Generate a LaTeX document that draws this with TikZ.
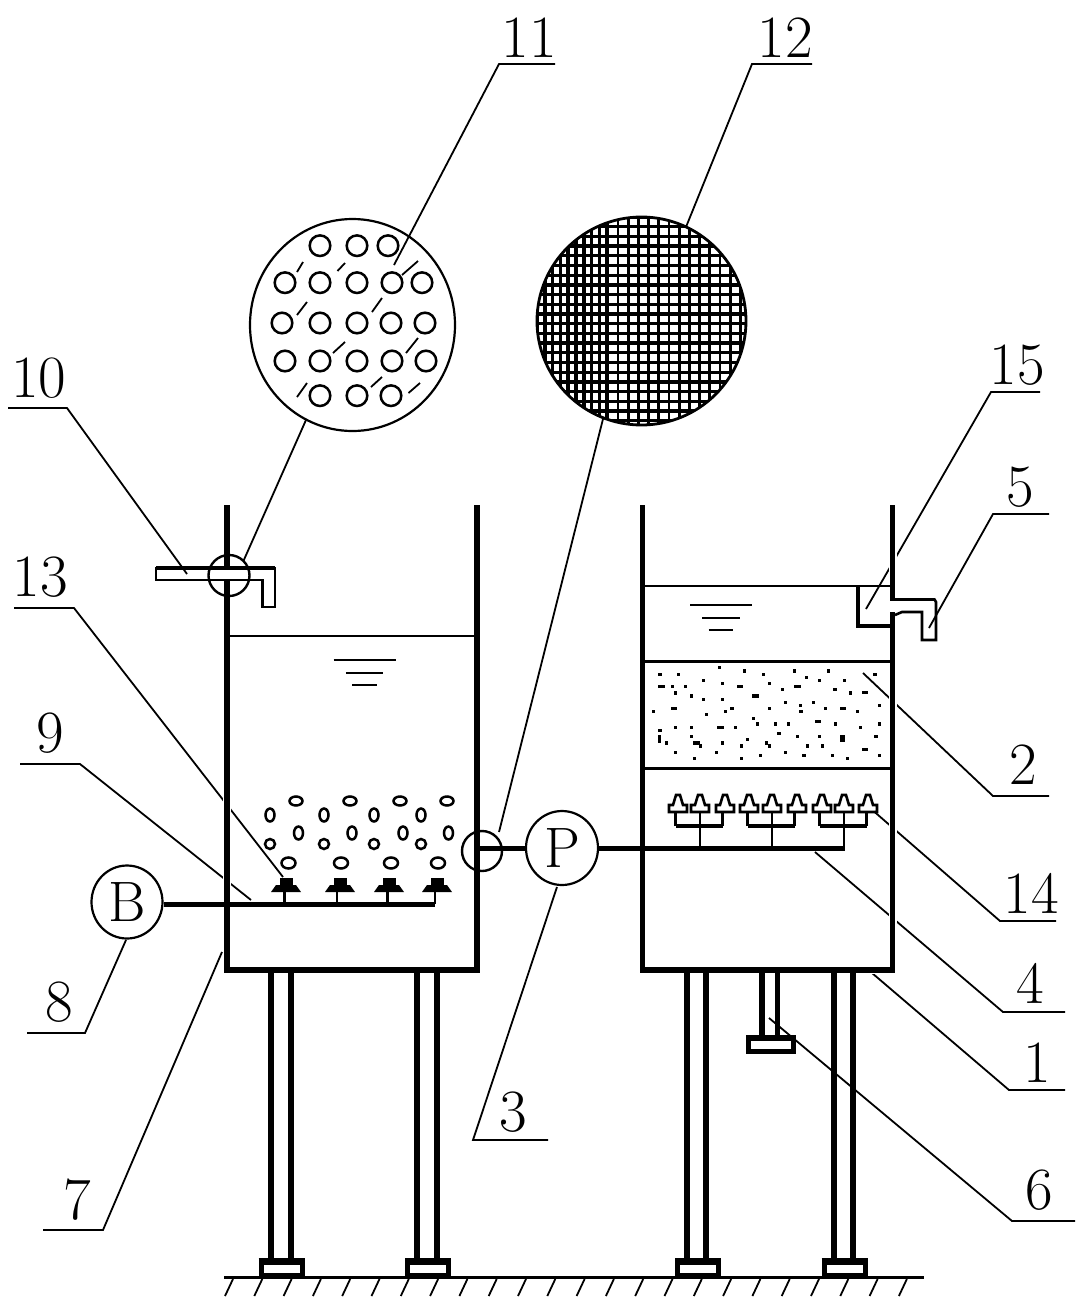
\documentclass[tikz,border=0pt]{standalone}
\usetikzlibrary{calc,shapes.geometric}
\tikzset{
	leader/.style={line width=1.8pt},
	partnum/.style={font=\fontsize{60}{60}\selectfont, inner sep=0pt},
	wall/.style={line width=5.5pt, preaction={draw=white, line width=8pt}},
	liquid/.style={line width=2.6pt},
	mainpipe/.style={line width=5pt},
	branch/.style={line width=2.6pt},
	bubble/.style={line width=2.5pt},
	roundpart/.style={draw, ellipse, line width=2.2pt, inner sep=0pt, font=\fontsize{57}{57}\selectfont},
	meshh/.style={line width=3.3pt},
	meshv/.style={line width=2.8pt},
	meshdense/.style={line width=3.7pt},
	legbar/.style={line width=5.5pt},
	padbox/.style={line width=5pt, fill=white}
}
\def\partlabel[#1](#2)(#3)(#4)(#5)#6{\node[partnum] (num#1) at (#2) {#6};
	\coordinate (bar#1a) at (#3); \coordinate (bar#1b) at (#4); \coordinate (tip#1) at (#5);
	\draw[leader] (bar#1a) -- (bar#1b) -- (tip#1);}
\def\bellcap(#1){\draw[branch, fill=white] (#1-9,812) -- (#1+9,812) -- (#1+9,805) -- (#1+5,805) -- (#1+2,795) -- (#1-2,795) -- (#1-5,805) -- (#1-9,805) -- cycle;}
\def\watermark(#1,#2,#3){\draw[liquid] (#1-#3,#2) -- (#1+#3,#2);
	\draw[liquid] (#1-0.6*#3,#2+13) -- (#1+0.6*#3,#2+13);
	\draw[liquid] (#1-0.4*#3,#2+25) -- (#1+0.4*#3,#2+25);}

\begin{document}
\begin{tikzpicture}[x=1pt, y=-1pt]
	\useasboundingbox (0,0) rectangle (1082,1302);

	%%% leaders and numbers
	\partlabel[11](529,37.5)(555,64)(499,64)(394,265){11}
	\partlabel[12](785.5,37.5)(812,64)(752,64)(686,227){12}
	\partlabel[13](40,577.5)(14,608)(74,608)(283,877){13}
	\partlabel[9](50,733)(20,764)(80,764)(251,900){9}
	\partlabel[8](59,1002)(27,1033)(85,1033)(126,940){8}
	\partlabel[7](77,1200)(43,1230)(103,1230)(222,952){7}
	\partlabel[3](513,1112)(548,1140)(473,1140)(557,887){3}
	\partlabel[15](1017,365)(1040,392)(991,392)(866,609){15}
	\partlabel[5](1020,487)(1049,514)(993,514)(929,628){5}
	\partlabel[2](1023,765)(1049,796)(993,796)(863,673){2}
	\partlabel[14](1031,893)(1056,921)(1000,921)(870,808){14}
	\partlabel[4](1030.5,983.5)(1065,1012)(1003,1012)(815,852){4}
	\partlabel[1](1037,1063)(1065,1090)(1009,1090)(872,973){1}
	\partlabel[6](1039,1190)(1075,1221)(1012,1221)(769,1018){6}

	%%% tanks
	\draw[wall] (227,505) -- (227,970) -- (477,970) -- (477,505);
	\draw[wall] (642.5,505) -- (642.5,970) -- (892.5,970) -- (892.5,505);

	%%% left tank
	\draw[liquid] (227,636) -- (477,636);
	\watermark(364.5,660,31)
	\foreach \x in {296,350,400,447}{\draw[bubble] (\x,801) ellipse (6.5pt and 4.5pt);}
	\foreach \x in {270,324,374,421}{\draw[bubble] (\x,815) ellipse (4.5pt and 6.5pt);}
	\foreach \x in {298.5,352,403,448.5}{\draw[bubble] (\x,833) ellipse (4.5pt and 6.5pt);}
	\foreach \x in {270,324,374,421}{\draw[bubble] (\x,844) ellipse (5pt and 5pt);}
	\foreach \x in {288.5,341,391,438}{\draw[bubble] (\x,863) ellipse (7pt and 5.5pt);}
	\foreach \x/\c in {284.5/286,337/340,387.5/389,435/437}{
		\draw[branch] (\x,904) -- (\x,888);
		\fill (\c-15,892) -- (\c+15,892) -- (\c+10,885) -- (\c-10,885) -- cycle;
		\fill (\c-6.5,878) rectangle (\c+6.5,885);
	}
	\node[roundpart, minimum width=71pt, minimum height=73pt] (blower) at (127,902) {B};
	\coordinate (airend) at (435,904);
	\draw[mainpipe] (blower.east |- airend) -- (airend);

	% outlet of the left tank
	\draw[liquid, fill=white] (156,568) -- (275,568) -- (275,607) -- (262.5,607) -- (262.5,580) -- (156,580) -- cycle;
	\draw[line width=3.6pt] (156,568) -- (275,568);
	\partlabel[10](39,378.5)(8,408)(67,408)(187,574){10}
	\node[draw, circle, line width=2.4pt, minimum size=41pt, inner sep=0pt] (outletring) at (229,575.5) {};
	\coordinate (ringtail) at (306,420);
	\draw[leader] (outletring.45) ++(-1,1) -- (ringtail);

	%%% pump line
	\node[roundpart, minimum width=72pt, minimum height=74pt] (pump) at (562,848) {P};
	\coordinate (feedend) at (845,848);
	\draw[mainpipe] (477,848) -- (pump.west);
	\draw[mainpipe] (pump.east) -- (feedend);
	\node[draw, circle, line width=2.4pt, minimum size=40pt, inner sep=0pt] (feedring) at (482,851) {};
	\draw[line width=5.5pt] (477,825) -- (477,880);
	\coordinate (meshtail) at (603.5,417);
	\draw[leader] (meshtail) -- (499,832);

	%%% right tank
	\draw[liquid] (642.5,586) -- (892.5,586);
	\watermark(721,605,31)
	\draw[line width=3pt] (642.5,661) -- (892.5,661);
	\draw[line width=3pt] (642.5,768) -- (892.5,768);
	\foreach \x/\y in {180/343,235/343,358/323,433/333,490/343,583/333,685/333,620/352,658/361,733/361,825/343,
		217/379,257/379,311/361,367/370,508/370,547/389,705/389,751/399,227/399,274/408,310/418,367/418,
		556/427,601/436,640/427,838/436,160/455,320/463,376/455,396/445,508/445,603/455,676/445,772/455,
		460/475,472/492,526/492,565/492,706/492,838/492,180/511,227/502,274/502,406/502,781/502,537/520,
		592/530,658/530,828/530,274/530,442/539,301/558,199/549,367/549,424/558,500/549,508/558,622/558,
		667/558,227/577,349/577,556/577,481/586,612/586,697/586,742/595,838/586,283/595,424/595}{
		\fill (600+\x/3-1.6,560+\y/3-1.6) rectangle ++(3.2,3.2);
	}
	\foreach \x/\y in {185/379,420/379,592/379,795/398,466/408,222/445,729/445,654/484,362/502,289/549,795/568}{
		\fill (600+\x/3-3.2,560+\y/3-1.6) rectangle ++(6.4,3.2);
	}
	\fill (658,735) rectangle ++(2.6,8);
	\fill (840,735) rectangle ++(5,7);

	% weir and outlet
	\draw[line width=4.6pt] (858,586) -- (858,626) -- (893,626);
	\fill[white] (889,601) rectangle (896,612);
	\draw[liquid] (890.5,599.5) -- (934.5,599.5) -- (936,602) -- (936,640) -- (922,640) -- (922,612) -- (902,612) -- (895,615);

	% distributor
	\foreach \x/\a/\b/\c/\d/\e in {700/675.5/722.5/678/700/725, 772/747.5/794.5/749/772/797, 844/819.5/866.5/822/844/868}{
		\draw[branch] (\x,848) -- (\x,826);
		\draw[line width=4pt] (\a,826) -- (\b,826);
		\draw[branch] (\a,826) -- (\a,810);
		\draw[branch] (\x,826) -- (\x,810);
		\draw[branch] (\b,826) -- (\b,810);
		\bellcap(\c) \bellcap(\d) \bellcap(\e)
	}
	\draw[mainpipe] (844,848) -- (feedend);

	%%% hole plate detail
	\node[draw, ellipse, line width=2.2pt, minimum width=205pt, minimum height=212pt, inner sep=0pt] (holeplate) at (352.5,325) {};
	\foreach \y/\xs in {245.7/{320,357,388}, 282.7/{285,320,357,392,422}, 323/{282,320,357,391,425}, 361/{285,320,357,392,426}, 395.7/{320,357,391}}{
		\foreach \x in \xs {\draw[line width=2.5pt] (\x,\y) circle (10.3pt);}
	}
	\foreach \xa/\ya/\xb/\yb in {303/262/297/272, 345/263/337.5/271, 418/261/402/275, 307/302/297/315, 382/298/372/312, 345/342/333/353, 418/338/406/353, 307/383/297/397, 382/377/371/387, 420/383/408.5/393}{
		\draw[leader] (\xa,\ya) -- (\xb,\yb);
	}

	%%% mesh detail
	\begin{scope}
		\clip (641.5,321) ellipse (104.5pt and 104pt);
		\foreach \i in {0,...,21}{\draw[meshh] (530,217+9.7*\i) -- (750,217+9.7*\i);}
		\foreach \i in {0,...,9}{\draw[meshdense] (537+7.8*\i,210) -- (537+7.8*\i,430);}
		\foreach \i in {0,...,12}{\draw[meshv] (618+10.2*\i,210) -- (618+10.2*\i,430);}
	\end{scope}
	\draw[meshv] (641.5,321) ellipse (104.5pt and 104pt);

	%%% legs
	\foreach \x in {271,291,417,437,687,706,834,853}{\draw[legbar] (\x,973) -- (\x,1260);}
	\foreach \x in {762,777.5}{\draw[legbar] (\x,973) -- (\x,1038);}
	\foreach \x in {261,407.5,677.5,824}{
		\draw[padbox] (\x,1261) rectangle (\x+41,1275);
		\draw[line width=7pt] (\x-2.5,1261) -- (\x+43.5,1261);
	}
	\draw[padbox] (748.5,1038) rectangle (793.5,1051);
	\draw[line width=6pt] (746,1038) -- (796,1038);

	%%% ground
	\draw[line width=3pt] (224,1277) -- (924,1277);
	\foreach \i in {0,...,23}{\draw[leader] (225+29.3*\i,1296) -- (233+29.3*\i,1279);}
\end{tikzpicture}
\end{document}
